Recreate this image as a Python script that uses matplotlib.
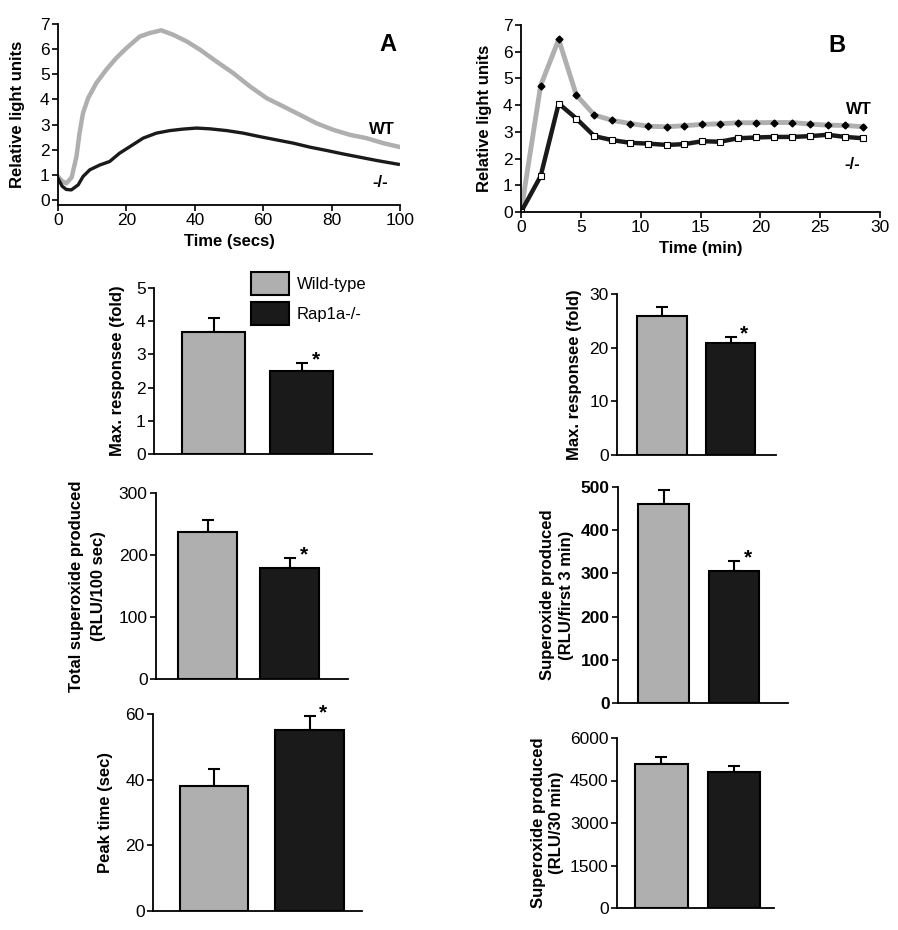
import matplotlib

matplotlib.use("Agg")
import matplotlib.pyplot as plt
from matplotlib.patches import Patch

plt.rcParams["font.family"] = ["Liberation Sans", "DejaVu Sans"]

GRAY = "#afafaf"
BLACK = "#1a1a1a"
W, H = 898, 930

# panel A kinetics (seconds)
a_t_wt = [0, 1.2, 2.4, 4.0, 5.4, 6.3, 7.3, 8.8, 11.2, 14.1, 17.0, 20.0, 23.9, 26.8, 30.2,
          33.7, 37.6, 41.5, 46.3, 51.2, 56.1, 61.0, 65.9, 70.7, 75.6, 80.5, 85.4, 90.2, 95.1, 99.5]
a_wt = [0.93, 0.75, 0.66, 0.9, 1.73, 2.66, 3.45, 4.05, 4.65, 5.18, 5.64, 6.04, 6.5, 6.64, 6.75,
        6.57, 6.31, 5.98, 5.51, 5.05, 4.52, 4.05, 3.72, 3.39, 3.05, 2.79, 2.59, 2.46, 2.26, 2.12]
a_t_ko = [0, 1.2, 2.4, 3.9, 5.9, 7.3, 9.3, 12.2, 15.1, 18.0, 21.0, 24.9, 28.8, 32.7, 36.6,
          40.5, 44.4, 49.3, 54.1, 59.0, 63.9, 68.8, 73.7, 78.5, 83.4, 88.3, 93.2, 99.5]
a_ko = [0.86, 0.55, 0.42, 0.4, 0.6, 0.93, 1.2, 1.39, 1.53, 1.86, 2.12, 2.46, 2.66, 2.76, 2.82,
        2.86, 2.83, 2.76, 2.66, 2.52, 2.39, 2.26, 2.1, 1.97, 1.83, 1.7, 1.57, 1.42]

# panel B kinetics (minutes)
b_t = [0, 1.64, 3.15, 4.62, 6.13, 7.63, 9.14, 10.64, 12.17, 13.65, 15.15, 16.63, 18.13,
       19.64, 21.14, 22.65, 24.15, 25.63, 27.1, 28.6]
b_wt = [0, 4.73, 6.46, 4.38, 3.63, 3.43, 3.31, 3.21, 3.19, 3.23, 3.28, 3.3, 3.34, 3.34,
        3.35, 3.35, 3.29, 3.25, 3.24, 3.19]
b_ko = [0, 1.34, 4.06, 3.5, 2.84, 2.69, 2.59, 2.56, 2.51, 2.54, 2.65, 2.63, 2.76, 2.79,
        2.81, 2.81, 2.84, 2.89, 2.81, 2.76]

groups = ["Wild-type", "Rap1a-/-"]

# bar summaries: mean, upper error
max_a = [3.68, 2.5]
max_a_err = [0.42, 0.25]
total_a = [237, 179]
total_a_err = [19, 16]
peak_a = [38.1, 55.1]
peak_a_err = [5.1, 4.3]
max_b = [25.9, 20.9]
max_b_err = [1.7, 1.1]
first3_b = [461, 306]
first3_b_err = [32, 23]
min30_b = [5082, 4800]
min30_b_err = [247, 212]

TICK_FS = 12.5
LABEL_FS = 12


def place(fig, left, right, bottom, top):
    return fig.add_axes([left / W, 1 - bottom / H, (right - left) / W, (bottom - top) / H])


def style(ax, bold_ticks=False):
    for s in ("top", "right"):
        ax.spines[s].set_visible(False)
    for s in ("left", "bottom"):
        ax.spines[s].set_linewidth(1.3)
    ax.tick_params(direction="out", length=4, width=1.2, labelsize=TICK_FS, pad=2)
    if bold_ticks:
        for lab in ax.get_yticklabels():
            lab.set_fontweight("bold")


def bars(ax, vals, errs, ylim, yticks, ylabel, star=True, bold_ticks=False, xlim=(-0.64, 1.7),
         labelpad=5, linespacing=1.2):
    x = [0, 1]
    ax.bar(x, vals, width=0.72, color=[GRAY, BLACK], edgecolor="black", linewidth=1.5, zorder=3)
    ax.errorbar(x, vals, yerr=[[0, 0], errs], fmt="none", ecolor="black", elinewidth=1.5,
                capsize=4, capthick=1.5, zorder=2)
    ax.set_xlim(*xlim)
    ax.set_ylim(*ylim)
    ax.set_yticks(yticks)
    ax.set_xticks([])
    ax.set_ylabel(ylabel, fontsize=LABEL_FS, fontweight="bold", labelpad=labelpad,
                  linespacing=linespacing)
    style(ax, bold_ticks)
    if star:
        ax.annotate("*", (1, vals[1] + errs[1]), xytext=(10, 2), textcoords="offset points",
                    ha="center", va="center", fontsize=15, fontweight="bold")


fig = plt.figure(figsize=(W / 100, H / 100), dpi=100)

# ---- panel A line
ax = place(fig, 58, 400, 205, 24)
ax.plot(a_t_wt, a_wt, color=GRAY, lw=3.2)
ax.plot(a_t_ko, a_ko, color=BLACK, lw=2.4)
ax.set_xlim(0, 100)
ax.set_ylim(-0.2, 7)
ax.set_xticks(range(0, 101, 20))
ax.set_yticks(range(0, 8))
ax.set_xlabel("Time (secs)", fontsize=12, fontweight="bold")
ax.set_ylabel("Relative light units", fontsize=LABEL_FS, fontweight="bold", labelpad=11)
style(ax)
ax.text(96.5, 6.17, "A", fontsize=17, fontweight="bold", ha="center", va="center")
ax.text(94.7, 2.79, "WT", fontsize=12, fontweight="bold", ha="center", va="center")
ax.text(94.2, 0.68, "-/-", fontsize=12, fontweight="bold", ha="center", va="center")

# ---- panel B line
ax = place(fig, 521, 880, 212, 25)
ax.plot(b_t, b_wt, color=GRAY, lw=3.5, marker="D", ms=3.5, mfc="black", mec="black")
ax.plot(b_t, b_ko, color=BLACK, lw=3.2, marker="s", ms=5, mfc="white", mec="black", mew=0.8)
ax.set_xlim(0, 30)
ax.set_ylim(0, 7)
ax.set_xticks(range(0, 31, 5))
ax.set_yticks(range(0, 8))
ax.set_xlabel("Time (min)", fontsize=12, fontweight="bold")
ax.set_ylabel("Relative light units", fontsize=LABEL_FS, fontweight="bold", labelpad=8)
style(ax)
ax.text(26.4, 6.25, "B", fontsize=17, fontweight="bold", ha="center", va="center")
ax.text(28.2, 3.82, "WT", fontsize=12, fontweight="bold", ha="center", va="center")
ax.text(27.7, 1.76, "-/-", fontsize=12, fontweight="bold", ha="center", va="center")

# ---- bar panels, left column
ax = place(fig, 154, 372, 454, 288)
bars(ax, max_a, max_a_err, (0, 5), range(0, 6), "Max. responsee (fold)", xlim=(-0.68, 1.8),
     labelpad=8)
handles = [Patch(facecolor=GRAY, edgecolor="black", linewidth=1.5),
           Patch(facecolor=BLACK, edgecolor="black", linewidth=1.5)]
fig.legend(handles, groups, loc="upper left", bbox_to_anchor=(251 / W, 1 - 272 / H),
           frameon=False, fontsize=12, handlelength=2.25, handleheight=1.75,
           labelspacing=0.4, handletextpad=0.5, borderpad=0, borderaxespad=0)

ax = place(fig, 156, 348, 679, 493)
bars(ax, total_a, total_a_err, (0, 300), range(0, 301, 100),
     "Total superoxide produced\n(RLU/100 sec)", xlim=(-0.63, 1.71), labelpad=9, linespacing=1.6)

ax = place(fig, 153, 362, 911, 714)
bars(ax, peak_a, peak_a_err, (0, 60), range(0, 61, 20), "Peak time (sec)", xlim=(-0.64, 1.55),
     labelpad=9)

# ---- bar panels, right column
ax = place(fig, 617, 776, 455, 294)
bars(ax, max_b, max_b_err, (0, 30), range(0, 31, 10), "Max. responsee (fold)", xlim=(-0.65, 1.66))

ax = place(fig, 618, 788, 703, 487)
bars(ax, first3_b, first3_b_err, (0, 500), range(0, 501, 100),
     "Superoxide produced\n(RLU/first 3 min)", bold_ticks=True, xlim=(-0.65, 1.77),
     linespacing=1.3)

ax = place(fig, 617, 774, 908, 738)
bars(ax, min30_b, min30_b_err, (0, 6000), range(0, 6001, 1500),
     "Superoxide produced\n(RLU/30 min)", star=False, xlim=(-0.61, 1.55), labelpad=4,
     linespacing=1.3)

fig.savefig("out.png", dpi=100)
